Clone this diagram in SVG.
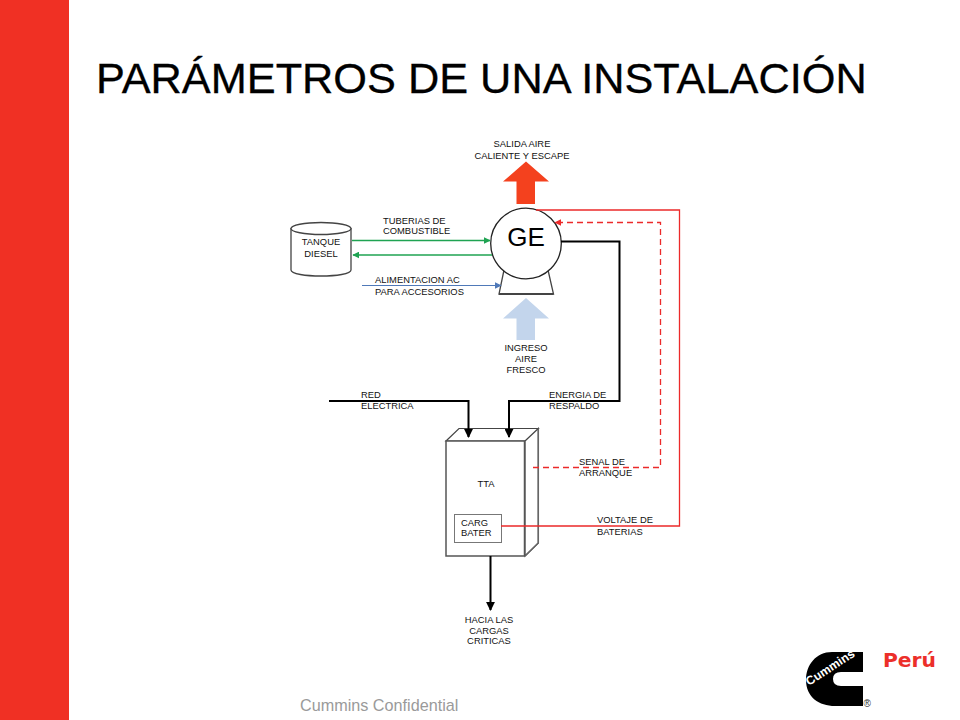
<svg xmlns="http://www.w3.org/2000/svg" width="960" height="720" viewBox="0 0 960 720">
<defs>
<marker id="hk" viewBox="0 0 10 10" refX="9" refY="5" markerWidth="9" markerHeight="9" markerUnits="userSpaceOnUse" orient="auto"><path d="M0 0L10 5L0 10Z" fill="context-stroke"/></marker>
<marker id="hb" viewBox="0 0 10 10" refX="9" refY="5" markerWidth="7" markerHeight="7" markerUnits="userSpaceOnUse" orient="auto"><path d="M0 0L10 5L0 10Z" fill="context-stroke"/></marker>
</defs>
<style>
text{font-family:"Liberation Sans",Arial,sans-serif;fill:#111}
.l{font-size:9.4px}
.m{text-anchor:middle}
.sh{fill:#fff;stroke:#444;stroke-width:1.3}
.c{fill:none;stroke-linejoin:miter}
.k{stroke:#000;stroke-width:2}
.g{stroke:#1fa352;stroke-width:1.3}
.r{stroke:#ec2a2a;stroke-width:1.3}
</style>
<rect width="960" height="720" fill="#fff"/>
<rect id="side-bar" width="69" height="720" fill="#f03024"/>
<text id="title" x="96" y="93" font-size="43.3" stroke="#000" stroke-width="0.3" style="fill:#000">PARÁMETROS DE UNA INSTALACIÓN</text>
<g id="salida-aire"><path d="M516.500 204V181.500H503L526 161.500L549 181.500H535V204Z" fill="#f4411e"/>
<text class="l m" x="522" y="147">SALIDA AIRE</text><text class="l m" x="522" y="159">CALIENTE Y ESCAPE</text></g>
<g id="ingreso-aire"><path d="M516.500 340V318.500H503L526 298L549 318.500H535V340Z" fill="#c3d5ec"/>
<text class="l m" x="526" y="351">INGRESO</text><text class="l m" x="526" y="362">AIRE</text><text class="l m" x="526" y="373">FRESCO</text></g>
<g id="ge">
<path d="M504 270L499 294H553.500L548 270Z" fill="#fff" stroke="#444" stroke-width="1.300"/>
<path d="M499 294H553.500" stroke="#444" stroke-width="2"/>
<circle cx="526" cy="243.500" r="35.300" fill="#fff" stroke="#222" stroke-width="1.300"/>
<text x="526" y="246" font-size="26" class="m" style="fill:#000">GE</text>
</g>
<g id="tanque-diesel">
<path class="sh" d="M291 228V270C291 278 351 278 351 270V228"/>
<ellipse class="sh" cx="321" cy="228.500" rx="30" ry="6"/>
<text class="l m" x="321" y="245">TANQUE</text><text class="l m" x="321" y="257">DIESEL</text>
</g>
<g id="tta">
<path d="M446 441L459 428.500H538.300L525 441ZM525 441L538.300 428.500V543L525 556Z" fill="#fff" stroke="#444" stroke-width="1.200"/>
<path d="M538.300 428.500V543L525 556" fill="none" stroke="#666" stroke-width="1.500"/>
<rect x="446" y="441" width="78.500" height="115" fill="#fff" stroke="#555" stroke-width="1.500"/>
<text class="l m" x="486" y="487">TTA</text>
</g>
<g id="carg-bater">
<rect x="454.500" y="514.500" width="47" height="28" fill="#fff" stroke="#777" stroke-width="1"/>
<text class="l" x="461" y="526">CARG</text><text class="l" x="461" y="536">BATER</text>
</g>
<g id="connectors">
<path class="c g" d="M352 240.500H490" marker-end="url(#hb)"/>
<path class="c g" d="M492 255H353" marker-end="url(#hb)"/>
<path class="c" stroke="#4f79b8" stroke-width="1.100" d="M362 285.500H501" marker-end="url(#hb)"/>
<path class="c r" stroke-width="1.200" d="M536 210H679.500V526H501"/>
<path class="c r" stroke-dasharray="6 4" d="M533 467.500H660.500V222.500H555" marker-end="url(#hb)"/>
<path class="c k" stroke-width="2.500" d="M561 241.500H619.500V401H509V437" marker-end="url(#hk)"/>
<path class="c k" d="M329 401H468.500V437" marker-end="url(#hk)"/>
<path class="c k" d="M490.500 556V610" marker-end="url(#hk)"/>
</g>
<g id="labels">
<text class="l" x="383" y="224">TUBERIAS DE</text><text class="l" x="383" y="234">COMBUSTIBLE</text>
<text class="l" x="375" y="283">ALIMENTACION AC</text><text class="l" x="375" y="295">PARA ACCESORIOS</text>
<text class="l" x="361" y="398">RED</text><text class="l" x="361" y="409">ELECTRICA</text>
<text class="l" x="549" y="398">ENERGIA DE</text><text class="l" x="549" y="409">RESPALDO</text>
<text class="l" x="579" y="465">SENAL DE</text><text class="l" x="579" y="476">ARRANQUE</text>
<text class="l" x="597" y="523">VOLTAJE DE</text><text class="l" x="597" y="535">BATERIAS</text>
<text class="l m" x="489" y="623">HACIA LAS</text><text class="l m" x="489" y="634">CARGAS</text><text class="l m" x="489" y="644">CRITICAS</text>
</g>
<text id="footer" x="300" y="711" font-size="16.200" style="fill:#9a9a9a">Cummins Confidential</text>
<g id="logo">
<path d="M832 652H863V672H841Q833 672 833 679Q833 686 841 686H863V706H835C819 706 806 697 806 680C806 665 816 652 832 652Z" fill="#000"/>
<text x="0" y="0" font-size="12.200" font-weight="700" transform="translate(809 686) rotate(-33)" style="fill:#fff">Cummins</text>
<text x="863.500" y="707" font-size="10" style="fill:#333">®</text>
<text x="883" y="667" font-size="20.300" font-weight="700" style="font-family:'DejaVu Sans',sans-serif;fill:#ec2f2a">Perú</text>
</g>
</svg>
